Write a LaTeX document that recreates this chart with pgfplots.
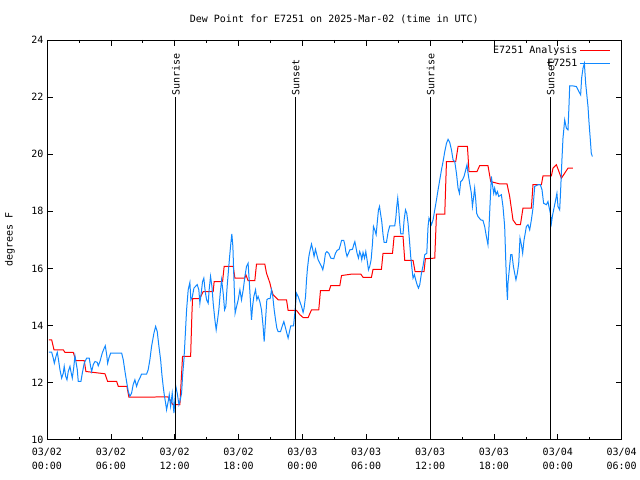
\documentclass[border=0pt]{standalone}
\usepackage{pgfplots}
\pgfplotsset{compat=1.18}
\usepackage{fontspec}
\setmainfont{DejaVu Sans Mono}
\definecolor{anared}{RGB}{255,0,0}
\definecolor{obsblue}{RGB}{16,136,255}
\begin{document}
\begin{tikzpicture}[font=\fontsize{10pt}{12pt}\selectfont]
\begin{axis}[
  scale only axis,
  width=575pt, height=400pt,
  xmin=0, xmax=54, ymin=10, ymax=24,
  axis line style={line width=0.8pt},
  tick style={black, line width=0.6pt},
  major tick length=6pt, minor tick length=3pt,
  xtick={0,6,...,54},
  minor xtick={3,9,...,51},
  xticklabels={03/02\\00:00,03/02\\06:00,03/02\\12:00,03/02\\18:00,03/03\\00:00,03/03\\06:00,03/03\\12:00,03/03\\18:00,03/04\\00:00,03/04\\06:00},
  xticklabel style={align=center, yshift=-5pt, font=\fontsize{10pt}{13.5pt}\selectfont},
  ytick={10,12,...,24},
  /pgf/number format/assume math mode=true,
  title={Dew Point for E7251 on 2025-Mar-02 (time in UTC)},
  every axis title/.style={at={(axis description cs:0.5,1)}, anchor=center, yshift=21pt},
  ylabel={degrees F},
  every axis y label/.style={at={(axis description cs:-0.0643,0.5)}, rotate=90, anchor=center},
  legend style={at={(axis description cs:1,1)}, anchor=north east, xshift=-8pt, yshift=-2pt, draw=none, fill=none, row sep=0pt, font=\fontsize{10pt}{12pt}\selectfont},
  legend cell align=right,
  legend plot pos=right,
  legend image code/.code={\draw[#1] (0pt,0pt) -- (30pt,0pt);},
]
\addplot[anared, line width=1pt] coordinates {
(0.19,13.50) (0.44,13.50) (0.66,13.15) (1.53,13.15) (1.69,13.06) (2.47,13.06)
(2.72,12.77) (3.50,12.77) (3.66,12.39) (5.45,12.31) (5.70,12.04) (6.55,12.04)
(6.70,11.87) (7.51,11.87) (7.70,11.49) (11.36,11.50) (11.55,11.40) (11.83,11.23)
(12.49,11.23) (12.74,12.92) (13.50,12.92) (13.62,14.41) (13.68,14.94) (14.37,14.94)
(14.53,15.08) (14.68,15.19) (15.62,15.19) (15.71,15.54) (16.50,15.54) (16.65,16.07)
(17.50,16.07) (17.66,15.66) (18.59,15.66) (18.69,15.78) (18.90,15.57) (19.53,15.57)
(19.69,16.15) (20.47,16.15) (20.63,15.83) (20.94,15.50) (21.10,15.25) (21.25,15.08)
(21.72,14.90) (22.51,14.90) (22.66,14.53) (23.45,14.53) (23.76,14.38) (24.07,14.28)
(24.54,14.28) (24.86,14.55) (25.54,14.55) (25.70,15.22) (26.51,15.22) (26.67,15.40)
(27.52,15.40) (27.68,15.75) (28.62,15.80) (29.49,15.80) (29.70,15.69) (30.49,15.69)
(30.64,15.97) (31.43,15.97) (31.58,16.53) (32.47,16.53) (32.62,17.12) (33.46,17.12)
(33.62,16.28) (34.40,16.28) (34.59,15.89) (35.43,15.89) (35.56,16.34) (36.44,16.36)
(36.60,17.90) (37.38,17.90) (37.54,19.74) (38.41,19.74) (38.63,20.27) (39.51,20.27)
(39.66,19.39) (40.41,19.39) (40.66,19.60) (41.44,19.60) (41.70,19.04) (42.54,18.96)
(43.23,18.96) (43.48,18.52) (43.79,17.70) (44.11,17.53) (44.49,17.53) (44.73,18.11)
(45.52,18.11) (45.67,18.93) (46.46,18.93) (46.61,19.24) (47.40,19.24) (47.55,19.51)
(47.87,19.63) (48.34,19.16) (48.96,19.51) (49.43,19.51)
};
\addlegendentry{E7251 Analysis}
\addplot[obsblue, line width=1pt] coordinates {
(0.19,13.07) (0.44,13.07) (0.59,12.86) (0.69,12.68) (0.85,12.92) (0.97,13.06)
(1.06,12.86) (1.22,12.45) (1.38,12.16) (1.53,12.33) (1.62,12.57) (1.76,12.22)
(1.88,12.10) (2.00,12.39) (2.16,12.57) (2.25,12.39) (2.38,12.16) (2.51,12.51)
(2.63,12.94) (2.72,12.74) (2.85,12.45) (2.94,12.04) (3.19,12.04) (3.32,12.33)
(3.50,12.68) (3.73,12.86) (3.97,12.86) (4.10,12.57) (4.20,12.39) (4.35,12.63)
(4.51,12.74) (4.72,12.71) (4.82,12.59) (4.98,12.74) (5.19,13.03) (5.38,13.21)
(5.48,13.29) (5.61,12.98) (5.70,12.68) (5.82,12.86) (5.98,13.03) (7.02,13.03)
(7.17,12.80) (7.33,12.39) (7.48,12.04) (7.64,11.69) (7.79,11.52) (7.95,11.63)
(8.10,11.93) (8.26,12.10) (8.42,11.87) (8.57,12.04) (8.73,12.16) (8.89,12.30)
(9.36,12.30) (9.51,12.45) (9.67,12.80) (9.83,13.27) (10.05,13.73) (10.21,13.97)
(10.36,13.79) (10.52,13.27) (10.68,12.80) (10.80,12.28) (10.92,11.87) (11.02,11.58)
(11.15,11.28) (11.24,11.05) (11.39,11.34) (11.49,11.58) (11.62,11.17) (11.77,11.63)
(11.93,10.93) (12.11,11.87) (12.24,11.63) (12.40,11.23) (12.49,11.34) (12.65,11.63)
(12.74,12.22) (12.87,12.80) (12.99,13.62) (13.12,14.55) (13.27,15.25) (13.43,15.51)
(13.52,14.90) (13.65,14.99) (13.81,15.31) (13.96,15.37) (14.12,15.43) (14.27,15.25)
(14.37,14.78) (14.53,15.25) (14.62,15.54) (14.74,15.66) (14.87,15.19) (15.00,14.90)
(15.15,14.78) (15.24,15.25) (15.37,15.72) (15.50,15.37) (15.62,14.78) (15.78,14.20)
(15.90,13.85) (16.03,14.20) (16.15,14.55) (16.28,15.13) (16.41,15.60) (16.56,15.13)
(16.69,14.55) (16.81,14.67) (16.93,15.37) (17.06,15.95) (17.19,16.53) (17.28,16.88)
(17.37,17.21) (17.47,16.77) (17.56,15.72) (17.68,14.43) (17.82,14.67) (17.97,14.90)
(18.13,15.25) (18.28,14.90) (18.44,15.25) (18.60,15.72) (18.75,16.07) (18.90,16.18)
(19.00,15.60) (19.13,14.78) (19.22,14.20) (19.32,14.67) (19.44,15.02) (19.60,15.25)
(19.72,14.90) (19.84,15.02) (20.00,14.84) (20.16,14.55) (20.31,13.97) (20.41,13.44)
(20.54,14.20) (20.66,14.90) (20.78,14.94) (20.97,14.94) (21.10,15.25) (21.22,15.02)
(21.35,14.55) (21.48,14.20) (21.60,13.91) (21.72,13.79) (21.95,13.79) (22.10,13.97)
(22.26,14.14) (22.42,13.91) (22.54,13.73) (22.66,13.56) (22.79,13.79) (22.91,13.99)
(23.17,13.99) (23.29,14.43) (23.45,15.13) (23.60,15.02) (23.76,14.84) (23.92,14.67)
(24.07,14.46) (24.16,14.61) (24.30,15.02) (24.39,15.60) (24.48,16.01) (24.61,16.42)
(24.73,16.65) (24.86,16.85) (24.98,16.65) (25.10,16.42) (25.23,16.67) (25.36,16.48)
(25.48,16.30) (25.64,16.18) (25.80,16.07) (25.92,15.95) (26.04,16.18) (26.17,16.53)
(26.30,16.59) (26.48,16.53) (26.67,16.36) (26.95,16.34) (27.11,16.53) (27.26,16.63)
(27.45,16.67) (27.58,16.83) (27.68,16.98) (27.89,16.98) (27.99,16.83) (28.08,16.59)
(28.20,16.42) (28.33,16.53) (28.46,16.65) (28.71,16.67) (28.83,16.83) (28.93,16.94)
(29.02,16.77) (29.14,16.53) (29.27,16.36) (29.39,16.59) (29.49,16.48) (29.58,16.30)
(29.70,16.56) (29.84,16.36) (29.96,16.59) (30.08,16.30) (30.21,15.95) (30.33,16.07)
(30.46,16.30) (30.59,16.88) (30.68,17.47) (30.80,17.35) (30.93,17.18) (31.06,17.70)
(31.15,18.05) (31.25,18.17) (31.34,17.93) (31.46,17.64) (31.58,17.18) (31.68,16.91)
(31.90,16.91) (32.05,17.26) (32.21,17.49) (32.68,17.49) (32.78,17.76) (32.87,18.17)
(32.96,18.46) (33.06,18.05) (33.15,17.58) (33.25,17.21) (33.46,17.21) (33.56,17.70)
(33.69,18.05) (33.81,17.93) (33.93,17.58) (34.06,17.00) (34.18,16.42) (34.31,15.95)
(34.40,15.66) (34.53,15.78) (34.65,15.60) (34.78,15.43) (34.91,15.31) (35.03,15.43)
(35.19,15.83) (35.34,16.09) (35.50,16.48) (35.69,16.53) (35.81,17.47) (35.90,17.76)
(36.03,17.64) (36.13,17.53) (36.28,17.70) (36.44,18.05) (36.60,18.40) (36.75,18.75)
(36.91,19.10) (37.07,19.45) (37.22,19.74) (37.38,20.09) (37.54,20.38) (37.69,20.52)
(37.85,20.41) (38.01,20.15) (38.16,19.80) (38.32,19.74) (38.48,19.33) (38.63,18.81)
(38.76,18.63) (38.88,19.04) (39.04,19.10) (39.19,19.22) (39.35,19.45) (39.47,19.63)
(39.57,19.33) (39.72,18.98) (39.88,18.63) (39.98,18.17) (40.10,18.52) (40.19,18.81)
(40.29,18.40) (40.38,17.93) (40.50,17.82) (40.76,17.70) (40.97,17.68) (41.13,17.47)
(41.29,17.12) (41.44,16.83) (41.54,17.47) (41.67,18.52) (41.76,19.22) (41.86,18.93)
(41.98,18.63) (42.07,18.81) (42.20,18.58) (42.33,18.69) (42.45,18.52) (42.70,18.58)
(42.85,18.17) (43.01,17.47) (43.11,16.30) (43.20,15.37) (43.27,14.90) (43.32,15.48)
(43.58,16.48) (43.70,16.48) (43.83,16.07) (43.95,15.83) (44.07,15.60) (44.20,15.83)
(44.33,16.18) (44.45,17.06) (44.58,16.83) (44.70,16.53) (44.83,17.00) (44.89,17.12)
(45.05,17.47) (45.20,17.53) (45.36,17.35) (45.52,17.70) (45.67,18.11) (45.83,18.87)
(46.14,18.93) (46.36,18.93) (46.52,18.75) (46.67,18.28) (46.93,18.23) (47.08,18.34)
(47.17,18.17) (47.30,17.93) (47.40,17.58) (47.49,17.82) (47.61,18.05) (47.77,18.34)
(47.92,18.63) (48.02,18.17) (48.18,18.05) (48.27,18.75) (48.39,19.80) (48.49,20.56)
(48.65,21.20) (48.81,20.91) (48.96,20.85) (49.05,21.67) (49.12,22.39) (49.43,22.39)
(49.75,22.37) (49.99,22.19) (50.15,22.08) (50.24,22.66) (50.37,23.01) (50.50,23.18)
(50.62,22.48) (50.84,21.67) (50.93,21.14) (51.06,20.50) (51.15,20.03) (51.25,19.92)
};
\addlegendentry{E7251}
\addplot[black, line width=0.8pt, forget plot] coordinates {(12.11,10) (12.11,22.0)};
\addplot[black, line width=0.8pt, forget plot] coordinates {(23.38,10) (23.38,22.0)};
\addplot[black, line width=0.8pt, forget plot] coordinates {(36.06,10) (36.06,22.0)};
\addplot[black, line width=0.8pt, forget plot] coordinates {(47.33,10) (47.33,22.0)};
\node[rotate=90, anchor=west, inner sep=1pt] at (axis cs:12.11,22.0) {Sunrise};
\node[rotate=90, anchor=west, inner sep=1pt] at (axis cs:23.38,22.0) {Sunset};
\node[rotate=90, anchor=west, inner sep=1pt] at (axis cs:36.06,22.0) {Sunrise};
\node[rotate=90, anchor=west, inner sep=1pt] at (axis cs:47.33,22.0) {Sunset};
\end{axis}
\path ([xshift=-47pt,yshift=-40pt]current axis.south west) rectangle ([xshift=18pt,yshift=40pt]current axis.north east);
\end{tikzpicture}
\end{document}
